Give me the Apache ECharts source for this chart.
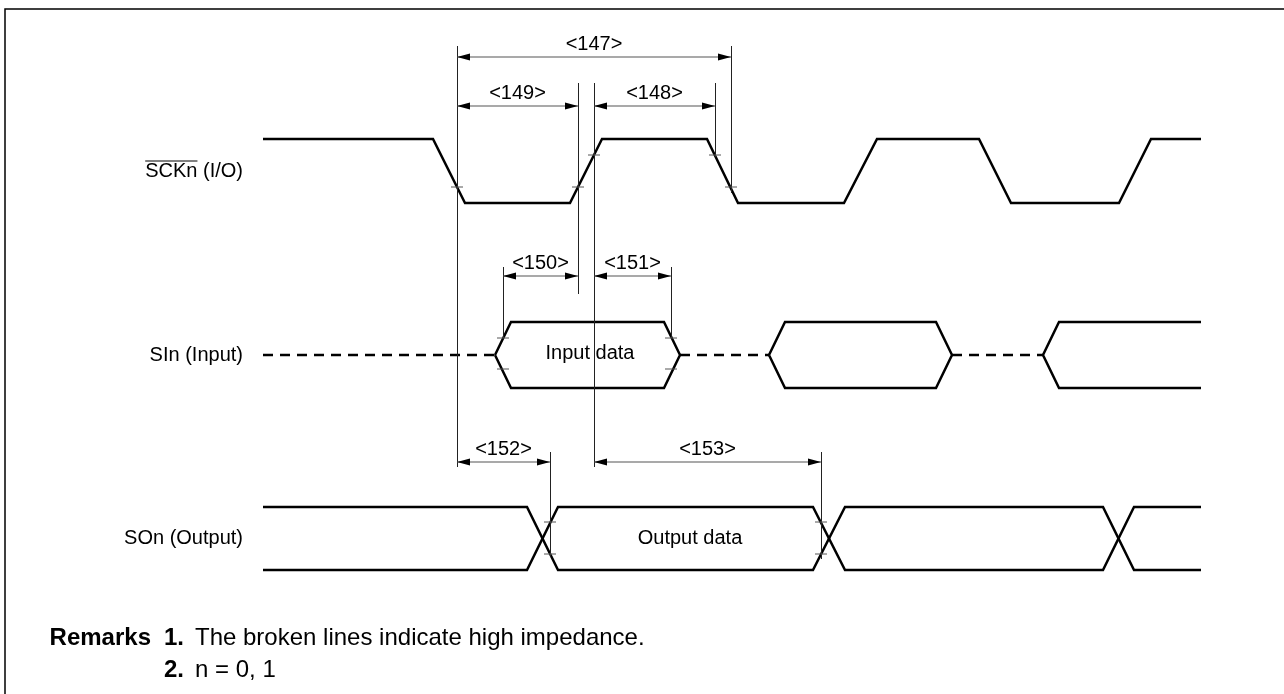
<!DOCTYPE html>
<html>
<head>
<meta charset="utf-8">
<title>Serial interface timing</title>
<script src="https://cdn.jsdelivr.net/npm/echarts@6/dist/echarts.min.js"></script>
<style>
  html, body { margin: 0; padding: 0; background: #fff; }
  #main { width: 1284px; height: 694px; }
</style>
</head>
<body>
<div id="main"></div>
<script>
// values (x = time axis, y = vertical axis of the drawing)

// SCKn (I/O): edge times and level (1 = high, 0 = low)
var sckTimes  = [263, 433, 465, 570, 602, 707, 738, 844, 877, 979, 1011, 1119, 1151, 1201];
var sckLevels = [1, 1, 0, 0, 1, 1, 0, 0, 1, 1, 0, 0, 1, 1];
var sckLevelY = [203, 139];

// SIn (Input): valid data windows, edge width, hi-z between them
var sinLeft  = [495, 769, 1043];
var sinRight = [680, 952, 1201];
var sinOpen  = [false, false, true];
var sinEdge  = 16;
var sinLevelY = [322, 355, 388];

// SOn (Output): crossing times, the two rails
var soTimes   = [263, 527, 558, 813, 845, 1103, 1134, 1201];
var soLevelsA = [1, 1, 0, 0, 1, 1, 0, 0];
var soLevelsB = [0, 0, 1, 1, 0, 0, 1, 1];
var soLevelY  = [570, 507];

// thin reference lines at the switching points
var refX  = [457, 578, 594, 715, 731, 503, 671, 550, 821];
var refY0 = [46, 83, 83, 83, 46, 267, 267, 452, 452];
var refY1 = [467, 294, 467, 157, 193, 338, 338, 557, 559];

// small threshold ticks
var tickX = [457, 578, 594, 715, 731, 503, 503, 671, 671, 550, 550, 821, 821];
var tickY = [187, 187, 155, 155, 187, 338, 369, 338, 369, 522, 554, 522, 554];

// timing parameters
var dimLabel = ['<147>', '<149>', '<148>', '<150>', '<151>', '<152>', '<153>'];
var dimFrom  = [457, 457, 594, 503, 594, 457, 594];
var dimTo    = [731, 578, 715, 578, 671, 550, 821];
var dimY     = [57, 106, 106, 276, 276, 462, 462];

// texts
var rowLabels = ['SCKn (I/O)', 'SIn (Input)', 'SOn (Output)'];
var rowY      = [171, 355, 538];
var boxText   = ['Input data', 'Output data'];
var boxX      = [590, 690];
var boxY      = [353, 538];
var remarks   = ['The broken lines indicate high impedance.', 'n = 0, 1'];

var FONT = '"Liberation Sans", Arial, Helvetica, sans-serif';

var chart = echarts.init(document.getElementById('main'));

var sckLine = sckTimes.map(function (t, i) { return [t, sckLevelY[sckLevels[i]]]; });
var soLineA = soTimes.map(function (t, i) { return [t, soLevelY[soLevelsA[i]]]; });
var soLineB = soTimes.map(function (t, i) { return [t, soLevelY[soLevelsB[i]]]; });

var sinTop = sinLevelY[0], sinMid = sinLevelY[1], sinBot = sinLevelY[2];
var sinShapes = sinLeft.map(function (l, i) {
  var r = sinRight[i];
  if (sinOpen[i]) {
    return { coords: [[r, sinTop], [l + sinEdge, sinTop], [l, sinMid], [l + sinEdge, sinBot], [r, sinBot]] };
  }
  return { coords: [[l, sinMid], [l + sinEdge, sinTop], [r - sinEdge, sinTop], [r, sinMid],
                    [r - sinEdge, sinBot], [l + sinEdge, sinBot], [l, sinMid]] };
});
var hiZ = [{ coords: [[sckTimes[0], sinMid], [sinLeft[0], sinMid]] }];
for (var i = 0; i < sinLeft.length - 1; i++) {
  hiZ.push({ coords: [[sinRight[i], sinMid], [sinLeft[i + 1], sinMid]] });
}

var refLines = refX.map(function (x, i) { return { coords: [[x, refY0[i]], [x, refY1[i]]] }; });

// measure the "SCKn" part for the overline
var ctx = document.createElement('canvas').getContext('2d');
ctx.font = '20px ' + FONT;
var sckWord = ctx.measureText('SCKn').width;
var sckFull = ctx.measureText(rowLabels[0]).width;

var remarkText = function (x, y, text, bold, align) {
  return {
    type: 'text', x: x, y: y,
    style: {
      text: text, font: (bold ? 'bold ' : '') + '24px ' + FONT, fill: '#000',
      align: align || 'left', verticalAlign: 'middle'
    }
  };
};

var option = {
  animation: false,
  grid: { left: 0, right: 0, top: 0, bottom: 0 },
  xAxis: { type: 'value', min: 0, max: 1284, show: false },
  yAxis: { type: 'value', min: 0, max: 694, inverse: true, show: false },
  graphic: [
    {
      type: 'polyline',
      shape: { points: [[5, 694], [5, 9], [1284, 9]] },
      style: { stroke: '#000', lineWidth: 1.5, fill: null }
    },
    remarkText(151, 638, 'Remarks', true, 'right'),
    remarkText(164, 638, '1.', true),
    remarkText(195, 638, remarks[0], false),
    remarkText(164, 670, '2.', true),
    remarkText(195, 670, remarks[1], false)
  ],
  series: [
    {
      name: 'SCKn',
      type: 'lines',
      coordinateSystem: 'cartesian2d',
      polyline: true,
      silent: true,
      lineStyle: { color: '#000', width: 2.5, opacity: 1 },
      data: [{ coords: sckLine }]
    },
    {
      name: 'SIn',
      type: 'lines',
      coordinateSystem: 'cartesian2d',
      polyline: true,
      silent: true,
      lineStyle: { color: '#000', width: 2.5, opacity: 1 },
      data: sinShapes
    },
    {
      name: 'SIn hi-z',
      type: 'lines',
      coordinateSystem: 'cartesian2d',
      polyline: true,
      silent: true,
      lineStyle: { color: '#000', width: 2.5, opacity: 1, type: [10, 7] },
      data: hiZ
    },
    {
      name: 'SOn',
      type: 'lines',
      coordinateSystem: 'cartesian2d',
      polyline: true,
      silent: true,
      lineStyle: { color: '#000', width: 2.5, opacity: 1 },
      data: [{ coords: soLineA }, { coords: soLineB }]
    },
    {
      name: 'ref',
      type: 'lines',
      coordinateSystem: 'cartesian2d',
      silent: true,
      lineStyle: { color: '#222', width: 1, opacity: 1 },
      data: refLines
    },
    {
      // threshold ticks
      type: 'custom',
      coordinateSystem: 'cartesian2d',
      silent: true,
      data: tickX.map(function (x, i) { return [x, tickY[i]]; }),
      renderItem: function (params, api) {
        var p = api.coord([api.value(0), api.value(1)]);
        return {
          type: 'line',
          shape: { x1: p[0] - 6, y1: p[1], x2: p[0] + 6, y2: p[1] },
          style: { stroke: '#555', lineWidth: 1 }
        };
      }
    },
    {
      // timing parameter arrows
      type: 'custom',
      coordinateSystem: 'cartesian2d',
      silent: true,
      data: dimFrom.map(function (x, i) { return [x, dimTo[i], dimY[i]]; }),
      renderItem: function (params, api) {
        var a = api.coord([api.value(0), api.value(2)]);
        var b = api.coord([api.value(1), api.value(2)]);
        var L = 13, W = 3.5;
        return {
          type: 'group',
          children: [
            { type: 'line', shape: { x1: a[0], y1: a[1], x2: b[0], y2: b[1] }, style: { stroke: '#555', lineWidth: 1.2 } },
            { type: 'polygon', shape: { points: [[a[0], a[1]], [a[0] + L, a[1] - W], [a[0] + L, a[1] + W]] }, style: { fill: '#000' } },
            { type: 'polygon', shape: { points: [[b[0], b[1]], [b[0] - L, b[1] - W], [b[0] - L, b[1] + W]] }, style: { fill: '#000' } },
            {
              type: 'text', x: (a[0] + b[0]) / 2, y: a[1] - 3,
              style: { text: dimLabel[params.dataIndex], font: '20px ' + FONT, fill: '#000', align: 'center', verticalAlign: 'bottom' }
            }
          ]
        };
      }
    },
    {
      // signal names
      type: 'custom',
      coordinateSystem: 'cartesian2d',
      silent: true,
      data: rowY.map(function (y) { return [243, y]; }),
      renderItem: function (params, api) {
        var p = api.coord([api.value(0), api.value(1)]);
        var children = [{
          type: 'text', x: p[0], y: p[1],
          style: { text: rowLabels[params.dataIndex], font: '20px ' + FONT, fill: '#000', align: 'right', verticalAlign: 'middle' }
        }];
        if (params.dataIndex === 0) {
          var x0 = p[0] - sckFull;
          children.push({
            type: 'line',
            shape: { x1: x0, y1: p[1] - 10, x2: x0 + sckWord, y2: p[1] - 10 },
            style: { stroke: '#000', lineWidth: 1 }
          });
        }
        return { type: 'group', children: children };
      }
    },
    {
      // data window captions
      type: 'custom',
      coordinateSystem: 'cartesian2d',
      silent: true,
      data: boxX.map(function (x, i) { return [x, boxY[i]]; }),
      renderItem: function (params, api) {
        var p = api.coord([api.value(0), api.value(1)]);
        return {
          type: 'text', x: p[0], y: p[1],
          style: { text: boxText[params.dataIndex], font: '20px ' + FONT, fill: '#000', align: 'center', verticalAlign: 'middle' }
        };
      }
    }
  ]
};

chart.setOption(option);
</script>
</body>
</html>
